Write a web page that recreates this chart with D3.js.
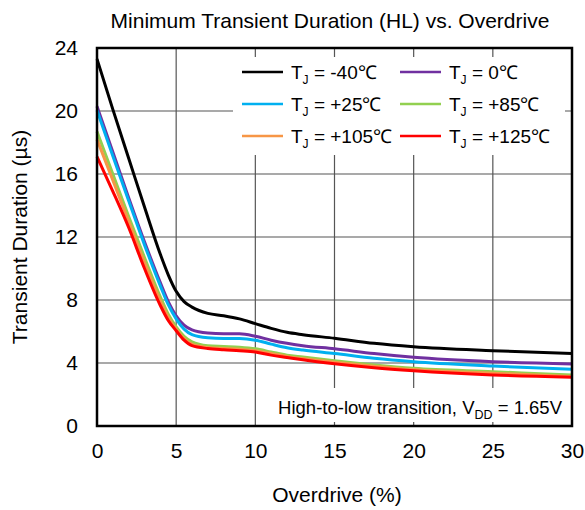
<!DOCTYPE html>
<html>
<head>
<meta charset="utf-8">
<script src="https://cdn.jsdelivr.net/npm/d3@7"></script>
<style>
  body { margin: 0; background: #fff; }
  text { font-family: "Liberation Sans", Arial, sans-serif; fill: #000; }
</style>
</head>
<body>
<script>
// overdrive (%) sample points
var overdrive = [0, 1, 2, 3, 4, 4.5, 5, 5.5, 6, 7, 8, 9, 10, 11, 12, 13, 15, 17.5, 20, 25, 30];

// transient duration (us) per junction temperature
var tjMinus40 = [23.3, 20.1, 17.0, 13.9, 10.9, 9.6, 8.55, 7.9, 7.55, 7.15, 7.0, 6.8, 6.5, 6.2, 5.95, 5.8, 5.57, 5.25, 5.03, 4.78, 4.6];
var tj0 = [20.3, 17.4, 14.5, 11.7, 9.1, 7.9, 7.0, 6.4, 6.1, 5.9, 5.85, 5.85, 5.7, 5.45, 5.25, 5.1, 4.9, 4.6, 4.36, 4.08, 3.94];
var tj25 = [20.05, 17.15, 14.3, 11.5, 8.9, 7.7, 6.8, 6.15, 5.8, 5.6, 5.55, 5.55, 5.45, 5.2, 4.97, 4.82, 4.6, 4.3, 4.08, 3.81, 3.6];
var tj85 = [18.7, 16.0, 13.3, 10.7, 8.2, 7.1, 6.3, 5.7, 5.35, 5.1, 5.05, 5.0, 4.9, 4.7, 4.5, 4.38, 4.15, 3.88, 3.66, 3.45, 3.24];
var tj105 = [18.2, 15.6, 13.0, 10.4, 7.95, 6.9, 6.15, 5.55, 5.2, 4.98, 4.92, 4.88, 4.78, 4.6, 4.42, 4.28, 4.05, 3.8, 3.58, 3.35, 3.15];
var tj125 = [17.1, 14.9, 12.6, 10.0, 7.65, 6.7, 6.05, 5.45, 5.1, 4.92, 4.84, 4.78, 4.7, 4.5, 4.35, 4.2, 3.95, 3.7, 3.51, 3.24, 3.09];

var seriesNames = ['-40', '0', '+25', '+85', '+105', '+125'];
var seriesValues = [tjMinus40, tj0, tj25, tj85, tj105, tj125];
var seriesColors = ['#000000', '#7030a0', '#00b0f0', '#92d050', '#f79646', '#ff0000'];

var xTicks = [0, 5, 10, 15, 20, 25, 30];
var yTicks = [0, 4, 8, 12, 16, 20, 24];

var W = 585, H = 510;
var plotL = 97, plotR = 572, plotT = 48, plotB = 426;

var svg = d3.select('body').append('svg')
    .attr('width', W)
    .attr('height', H);

var x = d3.scaleLinear().domain([0, 30]).range([plotL, plotR]);
var y = d3.scaleLinear().domain([0, 24]).range([plotB, plotT]);

// grid
var grid = svg.append('g');
grid.selectAll('line.v')
    .data(xTicks.slice(1, -1))
    .enter().append('line')
    .attr('x1', function(d) { return x(d); })
    .attr('x2', function(d) { return x(d); })
    .attr('y1', plotT).attr('y2', plotB)
    .attr('stroke', '#555').attr('stroke-width', 1.2);
grid.selectAll('line.h')
    .data(yTicks.slice(1, -1))
    .enter().append('line')
    .attr('x1', plotL).attr('x2', plotR)
    .attr('y1', function(d) { return y(d); })
    .attr('y2', function(d) { return y(d); })
    .attr('stroke', '#555').attr('stroke-width', 1.2);

// white boxes for legend and note
svg.append('rect')
    .attr('x', 233).attr('y', 57).attr('width', 332).attr('height', 98)
    .attr('fill', '#fff');
svg.append('rect')
    .attr('x', 265).attr('y', 388).attr('width', 304).attr('height', 34)
    .attr('fill', '#fff');

// curves
var line = d3.line()
    .x(function(d) { return x(d[0]); })
    .y(function(d) { return y(d[1]); })
    .curve(d3.curveMonotoneX);

svg.append('g').selectAll('path')
    .data(seriesValues)
    .enter().append('path')
    .attr('d', function(vals) {
      return line(overdrive.map(function(o, i) { return [o, vals[i]]; }));
    })
    .attr('fill', 'none')
    .attr('stroke', function(d, i) { return seriesColors[i]; })
    .attr('stroke-width', 3)
    .attr('stroke-linejoin', 'round');

// frame
svg.append('rect')
    .attr('x', plotL).attr('y', plotT)
    .attr('width', plotR - plotL).attr('height', plotB - plotT)
    .attr('fill', 'none').attr('stroke', '#000').attr('stroke-width', 2.5);

// axes (labels only)
var xAxis = d3.axisBottom(x).tickValues(xTicks).tickSize(0).tickPadding(17);
var gx = svg.append('g').attr('transform', 'translate(0,' + plotB + ')').call(xAxis);
var yAxis = d3.axisLeft(y).tickValues(yTicks).tickSize(0).tickPadding(19);
var gy = svg.append('g').attr('transform', 'translate(' + plotL + ',0)').call(yAxis);
[gx, gy].forEach(function(g) {
  g.select('.domain').remove();
  g.selectAll('text')
      .style('font-family', '"Liberation Sans", Arial, sans-serif')
      .style('font-size', '21px')
      .attr('fill', '#000');
});

// titles
svg.append('text')
    .attr('x', 330).attr('y', 28)
    .attr('text-anchor', 'middle')
    .style('font-size', '21px')
    .text('Minimum Transient Duration (HL) vs. Overdrive');
svg.append('text')
    .attr('x', 337).attr('y', 502)
    .attr('text-anchor', 'middle')
    .style('font-size', '21px')
    .text('Overdrive (%)');
svg.append('text')
    .attr('transform', 'translate(27,' + ((plotT + plotB) / 2) + ') rotate(-90)')
    .attr('text-anchor', 'middle')
    .style('font-size', '21px')
    .text('Transient Duration (µs)');

// legend
var legend = svg.append('g');
seriesNames.forEach(function(name, i) {
  var col = i % 2, row = Math.floor(i / 2);
  var lx = 242 + col * 158, ly = 72 + row * 32;
  legend.append('line')
      .attr('x1', lx).attr('x2', lx + 41)
      .attr('y1', ly).attr('y2', ly)
      .attr('stroke', seriesColors[i]).attr('stroke-width', 2.5);
  var t = legend.append('text')
      .attr('x', lx + 49).attr('y', ly + 7)
      .style('font-size', '19px');
  t.append('tspan').text('T');
  t.append('tspan').attr('dy', 5).style('font-size', '12px').text('J');
  t.append('tspan').attr('dy', -5).text(' = ' + name + '\u2103');
});

// note
var note = svg.append('text')
    .attr('x', 562).attr('y', 414)
    .attr('text-anchor', 'end')
    .style('font-size', '18.5px');
note.append('tspan').text('High-to-low transition, V');
note.append('tspan').attr('dy', 5).style('font-size', '12.5px').text('DD');
note.append('tspan').attr('dy', -5).text(' = 1.65V');
</script>
</body>
</html>
